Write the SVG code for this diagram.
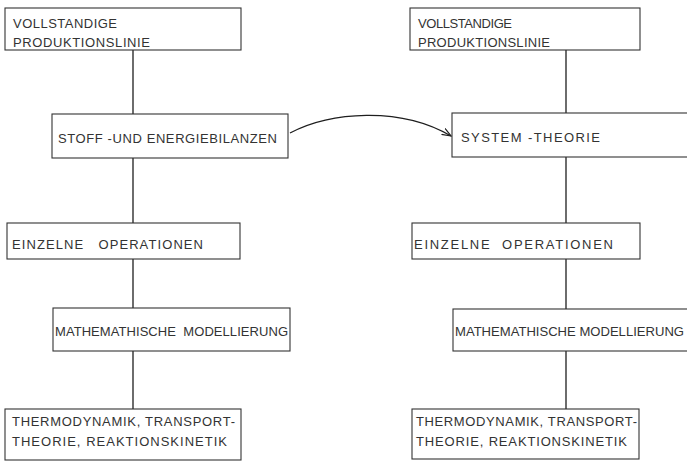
<svg xmlns="http://www.w3.org/2000/svg" width="687" height="461" viewBox="0 0 687 461">
<style>
.b{fill:#fff;stroke:#333;stroke-width:1.1}
.c{fill:none;stroke:#1e1e1e;stroke-width:1.3}
text{font-family:"Liberation Sans","DejaVu Sans",sans-serif;font-size:13px;fill:#333;white-space:pre}
</style>
<defs>
<marker id="ah" markerWidth="10" markerHeight="8" refX="9" refY="4" orient="auto" markerUnits="userSpaceOnUse">
<path d="M0,0.5 L9,4 L0,7.5" fill="none" stroke="#1e1e1e" stroke-width="1.2"/>
</marker>
</defs>
<rect width="687" height="461" fill="#fff"/>
<g id="connectors">
<line class="c" x1="133" y1="50" x2="133" y2="114"/>
<line class="c" x1="133" y1="158" x2="133" y2="223"/>
<line class="c" x1="133" y1="259" x2="133" y2="308"/>
<line class="c" x1="133" y1="351" x2="133" y2="409"/>
<line class="c" x1="566" y1="50" x2="566" y2="113"/>
<line class="c" x1="566" y1="157" x2="566" y2="223"/>
<line class="c" x1="566" y1="259" x2="566" y2="309"/>
<line class="c" x1="566" y1="351" x2="566" y2="409"/>
<path class="c" d="M290,133 C330,112 400,106 451,136" marker-end="url(#ah)"/>
</g>
<g id="l1"><rect class="b" x="5" y="8" width="236" height="42"/>
<text x="13" y="28" textLength="104" lengthAdjust="spacing">VOLLSTANDIGE</text>
<text x="13" y="47" textLength="137" lengthAdjust="spacing">PRODUKTIONSLINIE</text></g>
<g id="l2"><rect class="b" x="52" y="114" width="236" height="44"/>
<text x="58" y="143" textLength="219" lengthAdjust="spacing">STOFF -UND ENERGIEBILANZEN</text></g>
<g id="l3"><rect class="b" x="7" y="223" width="233" height="36"/>
<text x="12" y="249" textLength="191" lengthAdjust="spacing">EINZELNE   OPERATIONEN</text></g>
<g id="l4"><rect class="b" x="53" y="308" width="237" height="43"/>
<text x="55" y="336" textLength="233" lengthAdjust="spacing">MATHEMATHISCHE  MODELLIERUNG</text></g>
<g id="l5"><rect class="b" x="5" y="409" width="236" height="51"/>
<text x="12" y="426" textLength="223" lengthAdjust="spacing">THERMODYNAMIK, TRANSPORT-</text>
<text x="12" y="446" textLength="215" lengthAdjust="spacing">THEORIE, REAKTIONSKINETIK</text></g>
<g id="r1"><rect class="b" x="410" y="8" width="230" height="42"/>
<text x="418" y="28" textLength="94" lengthAdjust="spacing">VOLLSTANDIGE</text>
<text x="418" y="47" textLength="132" lengthAdjust="spacing">PRODUKTIONSLINIE</text></g>
<g id="r2"><rect class="b" x="452" y="113" width="250" height="44"/>
<text x="461" y="142" textLength="139" lengthAdjust="spacing">SYSTEM -THEORIE</text></g>
<g id="r3"><rect class="b" x="412" y="223" width="228" height="36"/>
<text x="414" y="249" textLength="199" lengthAdjust="spacing">EINZELNE  OPERATIONEN</text></g>
<g id="r4"><rect class="b" x="453" y="309" width="250" height="42"/>
<text x="455" y="336" textLength="229" lengthAdjust="spacingAndGlyphs">MATHEMATHISCHE MODELLIERUNG</text></g>
<g id="r5"><rect class="b" x="412" y="409" width="227" height="50"/>
<text x="416" y="426" textLength="221" lengthAdjust="spacing">THERMODYNAMIK, TRANSPORT-</text>
<text x="416" y="446" textLength="211" lengthAdjust="spacing">THEORIE, REAKTIONSKINETIK</text></g>
</svg>
